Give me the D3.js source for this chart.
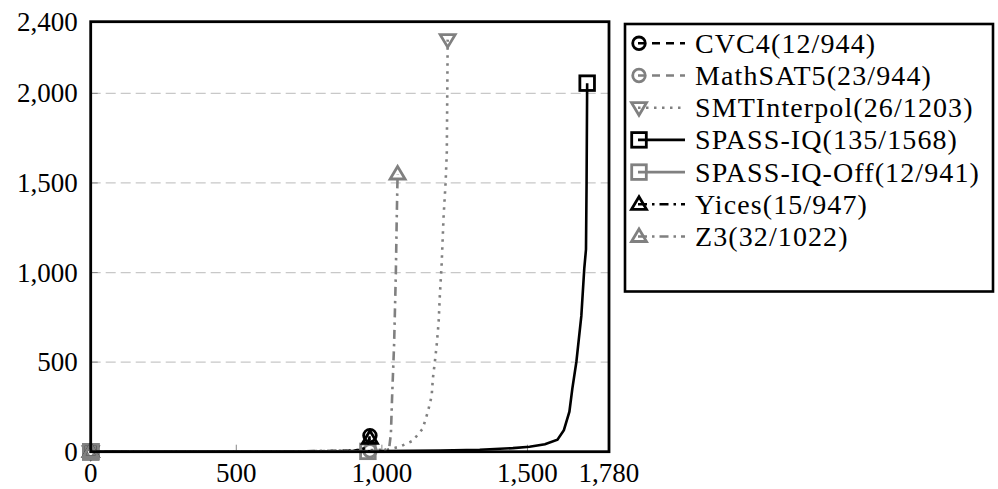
<!DOCTYPE html>
<html>
<head>
<meta charset="utf-8">
<script src="https://cdn.jsdelivr.net/npm/d3@7"></script>
<style>
  body { margin: 0; background: #fff; }
</style>
</head>
<body>
<svg id="chart" width="998" height="489" font-family="'Liberation Serif', 'Times New Roman', 'DejaVu Serif', serif"></svg>
<script>
//tick values for both axes
let xTicks = [0, 500, 1000, 1500, 1780];
let yTicks = [0, 500, 1000, 1500, 2000, 2400];
let gridTicks = [500, 1000, 1500, 2000];

//series names as shown in the legend
let names = ["CVC4(12/944)", "MathSAT5(23/944)", "SMTInterpol(26/1203)", "SPASS-IQ(135/1568)",
  "SPASS-IQ-Off(12/941)", "Yices(15/947)", "Z3(32/1022)"];

//points [solved instances, time]
let cvc4 = [[0, 0], [500, 1], [850, 3], [930, 10], [950, 30], [959, 90]];
let mathsat5 = [[0, 0], [600, 1], [900, 2], [959, 5]];
let smtinterpol = [[0, 0], [700, 1], [1017, 11], [1062, 28], [1106, 61], [1140, 128], [1158, 223],
  [1171, 312], [1175, 407], [1182, 502], [1188, 591], [1195, 725], [1199, 870], [1205, 1037],
  [1212, 1315], [1219, 1505], [1223, 1672], [1226, 2300]];
let spassiq = [[0, 0], [800, 1], [1200, 6], [1336, 11], [1450, 20], [1507, 28], [1560, 42],
  [1603, 67], [1625, 120], [1644, 223], [1654, 351], [1668, 502], [1685, 758], [1695, 1020],
  [1701, 1130], [1703, 1500], [1705, 2057]];
let spassiqoff = [[0, 0], [700, 1], [952, 2]];
let yices = [[0, 0], [500, 1], [900, 4], [945, 20], [959, 75]];
let z3 = [[0, 0], [700, 1], [1000, 3], [1025, 20], [1031, 100], [1035, 300], [1042, 600],
  [1048, 1000], [1051, 1300], [1054, 1550]];

let seriesData = [cvc4, mathsat5, smtinterpol, spassiq, spassiqoff, yices, z3];
let colors = ["#000", "#808080", "#808080", "#000", "#808080", "#000", "#808080"];
let dashes = ["8,6", "8,6", "2.5,5.5", null, null, "9,5,2.5,5", "9,5,2.5,5"];
let marks = ["circle", "circle", "tridown", "square", "square", "triup", "triup"];

//plot box
let margin = { top: 21.7, right: 389, bottom: 37.3, left: 90.7 };
let svg = d3.select("#chart");
let width = +svg.attr("width") - margin.left - margin.right;
let height = +svg.attr("height") - margin.top - margin.bottom;

let x = d3.scaleLinear().domain([0, 1780]).range([0, width]);
let y = d3.scaleLinear().domain([0, 2400]).range([height, 0]);
let fmt = d3.format(",");

let g = svg.append("g").attr("transform", "translate(" + margin.left + "," + margin.top + ")");

//horizontal grid
g.selectAll(".grid").data(gridTicks).enter().append("line")
  .attr("class", "grid")
  .attr("x1", 0).attr("x2", width)
  .attr("y1", d => y(d)).attr("y2", d => y(d))
  .attr("stroke", "#c8c8c8").attr("stroke-width", 1.2).attr("stroke-dasharray", "10,5");

//ticks inside the box
g.selectAll(".xtick").data(xTicks).enter().append("line")
  .attr("x1", d => x(d)).attr("x2", d => x(d))
  .attr("y1", height).attr("y2", height - 7)
  .attr("stroke", "#888").attr("stroke-width", 1);
g.selectAll(".ytick").data(yTicks).enter().append("line")
  .attr("x1", 0).attr("x2", 7)
  .attr("y1", d => y(d)).attr("y2", d => y(d))
  .attr("stroke", "#888").attr("stroke-width", 1);

//tick labels
g.selectAll(".xlabel").data(xTicks).enter().append("text")
  .attr("x", d => x(d)).attr("y", height + 30)
  .attr("text-anchor", "middle").attr("font-size", 27)
  .text(d => fmt(d));
g.selectAll(".ylabel").data(yTicks).enter().append("text")
  .attr("x", -13).attr("y", d => y(d) + 9)
  .attr("text-anchor", "end").attr("font-size", 27)
  .text(d => fmt(d));

//marker shapes
function drawMark(sel, type, cx, cy, color) {
  if (type === "circle") {
    sel.append("circle").attr("cx", cx).attr("cy", cy).attr("r", 6.3)
      .attr("fill", "none").attr("stroke", color).attr("stroke-width", 2.8);
  } else if (type === "square") {
    sel.append("rect").attr("x", cx - 7.3).attr("y", cy - 7.3).attr("width", 14.6).attr("height", 14.6)
      .attr("fill", "none").attr("stroke", color).attr("stroke-width", 2.8);
  } else {
    let s = type === "triup" ? -1 : 1;
    let pts = [[cx, cy + s * 7.5], [cx - 7.5, cy - s * 5], [cx + 7.5, cy - s * 5]];
    sel.append("path").attr("d", "M" + pts.map(p => p.join(",")).join("L") + "Z")
      .attr("fill", "none").attr("stroke", color).attr("stroke-width", 2.8)
      .attr("stroke-linejoin", "miter");
  }
}

let line = d3.line().x(d => x(d[0])).y(d => y(d[1]));

//series lines with marks at first and last point
seriesData.forEach(function (data, i) {
  let sg = g.append("g");
  sg.append("path").datum(data)
    .attr("d", line)
    .attr("fill", "none")
    .attr("stroke", colors[i])
    .attr("stroke-width", 2.6)
    .attr("stroke-dasharray", dashes[i]);
  let first = data[0], last = data[data.length - 1];
  drawMark(sg, marks[i], x(first[0]), y(first[1]), colors[i]);
  drawMark(sg, marks[i], x(last[0]), y(last[1]), colors[i]);
});

//plot border
g.append("rect").attr("x", 0).attr("y", 0).attr("width", width).attr("height", height)
  .attr("fill", "none").attr("stroke", "#000").attr("stroke-width", 2.8);

//legend
let lg = svg.append("g");
lg.append("rect").attr("x", 625).attr("y", 24).attr("width", 368).attr("height", 267.5)
  .attr("fill", "#fff").attr("stroke", "#000").attr("stroke-width", 2.6);
names.forEach(function (name, i) {
  let cy = 43.3 + i * 32.2;
  lg.append("line").attr("x1", 638).attr("x2", 685).attr("y1", cy).attr("y2", cy)
    .attr("stroke", colors[i]).attr("stroke-width", 2.6).attr("stroke-dasharray", dashes[i]);
  drawMark(lg, marks[i], 639, cy, colors[i]);
  lg.append("text").attr("x", 695).attr("y", cy + 9.5).attr("font-size", 28)
    .attr("letter-spacing", 1.1).text(name);
});
</script>
</body>
</html>
